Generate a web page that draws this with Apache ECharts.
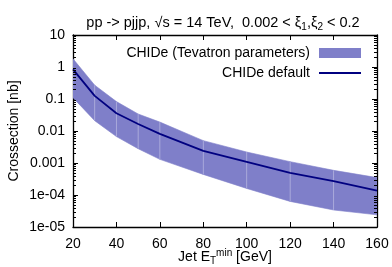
<!DOCTYPE html>
<html>
<head>
<meta charset="utf-8">
<script src="https://cdn.jsdelivr.net/npm/echarts@6/dist/echarts.min.js"></script>
<style>
  html, body { margin: 0; padding: 0; background: #fff; }
  #chart { width: 392px; height: 267px; }
</style>
</head>
<body>
<div id="chart"></div>
<script>
// Jet E_T^min points [GeV]
const jetEt = [20, 30, 40, 50, 60, 80, 100, 120, 140, 160]
// CHIDe default (central line) [nb]
const chideDefault = [0.84, 0.125, 0.036, 0.0165, 0.0081, 0.0024, 0.00108, 0.00049, 0.00027, 0.000137]
// CHIDe band with Tevatron parameters [nb]
const bandHigh = [1.8, 0.27, 0.083, 0.034, 0.019, 0.0050, 0.0022, 0.0011, 0.00059, 0.00035]
const bandLow = [0.11, 0.021, 0.0067, 0.0028, 0.0013, 0.00044, 0.00016, 0.000063, 0.000034, 0.000024]
// y tick labels (gnuplot style)
const yTickLabels = { '10': '10', '1': '1', '0.1': '0.1', '0.01': '0.01', '0.001': '0.001', '0.0001': '1e-04', '0.00001': '1e-05' }
// log minor ticks 2..9 in each decade
const minorMantissas = [2, 3, 4, 5, 6, 7, 8, 9]
const decades = [1e-5, 1e-4, 1e-3, 1e-2, 1e-1, 1]

const bandName = 'CHIDe (Tevatron parameters)'
const lineName = 'CHIDe default'
const bandColor = '#7f7fc9'
const lineColor = '#000080'
const font = 'Liberation Sans'

const chart = echarts.init(document.getElementById('chart'))

// segment polygons between neighbouring points
const bandSegments = jetEt.slice(0, -1).map((x, i) => [x, bandLow[i], bandHigh[i], jetEt[i + 1], bandLow[i + 1], bandHigh[i + 1]])
// faint seams at interior points
const seams = jetEt.slice(1, -1).map((x, i) => [x, bandLow[i + 1], bandHigh[i + 1]])
const minorTicks = []
decades.forEach(d => minorMantissas.forEach(m => minorTicks.push([jetEt[0], m * d])))

const axisCommon = {
  axisLine: { show: true, lineStyle: { color: '#000', width: 1.3 } },
  axisTick: { show: true, inside: true, length: 5, lineStyle: { color: '#000', width: 1 } },
  splitLine: { show: false }
}

const option = {
  animation: false,
  backgroundColor: '#fff',
  textStyle: { fontFamily: font },
  title: {
    left: 218,
    textAlign: 'center',
    top: 9,
    text: '{a|pp -> pjjp, √s = 14 TeV,  0.002 < ξ}{s|1}{a|,ξ}{s|2}{a| < 0.2}',
    textStyle: {
      fontWeight: 'normal',
      rich: {
        a: { fontFamily: font, fontSize: 14.5, fontWeight: 'normal', color: '#000', lineHeight: 18, verticalAlign: 'middle' },
        s: { fontFamily: font, fontSize: 10, fontWeight: 'normal', color: '#000', lineHeight: 10, verticalAlign: 'bottom' }
      }
    }
  },
  legend: {
    orient: 'vertical',
    align: 'right',
    right: 26,
    top: 41,
    itemWidth: 42,
    itemHeight: 10,
    itemGap: 6,
    textStyle: { fontFamily: font, fontSize: 14, color: '#000', padding: [0, 4, 0, 0] },
    data: [
      { name: bandName, icon: 'rect', itemStyle: { color: bandColor } },
      { name: lineName, icon: 'path://M0,0H42V2H0Z', itemStyle: { color: lineColor } }
    ]
  },
  grid: { left: 73, right: 15, top: 35, bottom: 40, outerBoundsMode: 'none' },
  xAxis: [
    {
      ...axisCommon,
      type: 'value', min: 20, max: 160, interval: 20,
      axisLabel: { color: '#000', fontSize: 14, fontFamily: font, margin: 10 },
      name: '{a|Jet E}{s|T}{p|min}{a| [GeV]}',
      nameLocation: 'middle',
      nameGap: 21,
      nameMoveOverlap: false,
      nameTextStyle: {
        rich: {
          a: { fontFamily: font, fontSize: 14, color: '#000', lineHeight: 18, verticalAlign: 'middle' },
          s: { fontFamily: font, fontSize: 10, color: '#000', lineHeight: 10, verticalAlign: 'bottom' },
          p: { fontFamily: font, fontSize: 10, color: '#000', lineHeight: 10, verticalAlign: 'top' }
        }
      }
    },
    {
      ...axisCommon,
      type: 'value', min: 20, max: 160, interval: 20, position: 'top',
      axisLabel: { show: false }
    }
  ],
  yAxis: [
    {
      ...axisCommon,
      type: 'log', logBase: 10, min: 1e-5, max: 10,
      axisLabel: {
        color: '#000', fontSize: 14, fontFamily: font, margin: 8,
        formatter: v => yTickLabels[String(+v.toPrecision(3))] || ''
      },
      name: 'Crossection [nb]',
      nameLocation: 'middle',
      nameGap: 52,
      nameMoveOverlap: false,
      nameTextStyle: { fontFamily: font, fontSize: 14, color: '#000' }
    },
    {
      ...axisCommon,
      type: 'log', logBase: 10, min: 1e-5, max: 10, position: 'right',
      axisLabel: { show: false }
    }
  ],
  series: [
    {
      name: bandName,
      type: 'custom',
      clip: true,
      z: 1,
      encode: { x: [0, 3], y: [1, 2, 4, 5] },
      data: bandSegments,
      renderItem: (params, api) => {
        const a = api.coord([api.value(0), api.value(2)])
        const b = api.coord([api.value(3), api.value(5)])
        const c = api.coord([api.value(3), api.value(4)])
        const d = api.coord([api.value(0), api.value(1)])
        return {
          type: 'polygon',
          shape: { points: [a, b, c, d] },
          style: { fill: bandColor, stroke: bandColor, lineWidth: 0.6 }
        }
      }
    },
    {
      name: 'seams',
      type: 'custom',
      clip: true,
      z: 2,
      silent: true,
      encode: { x: 0, y: [1, 2] },
      data: seams,
      renderItem: (params, api) => {
        const lo = api.coord([api.value(0), api.value(1)])
        const hi = api.coord([api.value(0), api.value(2)])
        return {
          type: 'line',
          shape: { x1: lo[0], y1: lo[1], x2: hi[0], y2: hi[1] },
          style: { stroke: 'rgba(255,255,255,0.3)', lineWidth: 1 }
        }
      }
    },
    {
      name: lineName,
      type: 'line',
      z: 3,
      symbol: 'none',
      lineStyle: { color: lineColor, width: 1.8 },
      itemStyle: { color: lineColor },
      data: jetEt.map((x, i) => [x, chideDefault[i]])
    },
    {
      name: 'minor ticks',
      type: 'custom',
      clip: false,
      z: 4,
      silent: true,
      encode: { x: 0, y: 1 },
      data: minorTicks,
      renderItem: (params, api) => {
        const l = api.coord([20, api.value(1)])
        const r = api.coord([160, api.value(1)])
        const y = Math.round(l[1]) + 0.5
        const st = { stroke: '#000', lineWidth: 1 }
        return {
          type: 'group',
          children: [
            { type: 'line', shape: { x1: l[0], y1: y, x2: l[0] + 3, y2: y }, style: st },
            { type: 'line', shape: { x1: r[0], y1: y, x2: r[0] - 3, y2: y }, style: st }
          ]
        }
      }
    }
  ]
}

chart.setOption(option)
</script>
</body>
</html>
